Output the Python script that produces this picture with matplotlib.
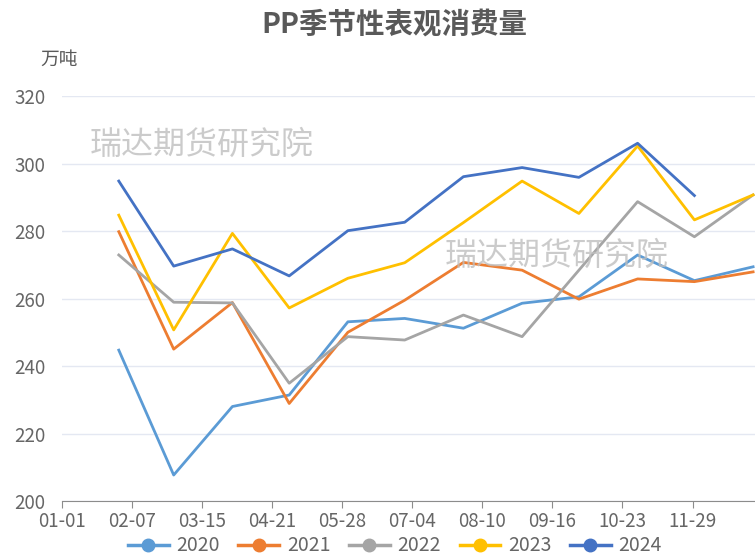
import pandas as pd
import numpy as np
from matplotlib import pyplot as plt
import matplotlib.dates as mdates

plt.rcParams['font.family'] = ['Noto Sans CJK SC', 'DejaVu Sans']

# month-end points, all years mapped onto one (leap) calendar year
months = pd.date_range('2020-01-31', periods=12, freq='ME')

v2020 = [244.7, 207.7, 228.0, 231.4, 253.1, 254.1, 251.2, 258.6, 260.5, 272.9, 265.3, 269.4]
v2021 = [279.8, 245.0, 258.8, 228.9, 250.0, 259.5, 270.7, 268.4, 259.8, 265.8, 265.0, 267.9]
v2022 = [272.9, 258.9, 258.7, 234.9, 248.7, 247.7, 255.1, 248.7, 268.4, 288.7, 278.3, 290.7]
v2023 = [284.7, 250.7, 279.3, 257.2, 266.0, 270.6, 282.5, 294.8, 285.2, 305.2, 283.3, 290.7]
v2024 = [294.8, 269.6, 274.7, 266.7, 280.1, 282.6, 296.1, 298.8, 295.9, 306.0, 290.5]

series = [('2020', v2020, '#5B9BD5'),
          ('2021', v2021, '#ED7D31'),
          ('2022', v2022, '#A5A5A5'),
          ('2023', v2023, '#FFC000'),
          ('2024', v2024, '#4472C4')]

tick_dates = pd.date_range('2020-01-01', periods=10, freq='37D')

fig = plt.figure(figsize=(7.55, 5.56), dpi=100)
ax = fig.add_axes([0.0821, 0.0989, 0.9179, 0.7284])

for name, vals, c in series:
    ax.plot(months[:len(vals)], vals, color=c, linewidth=2.0, label=name, clip_on=False)

ax.set_xlim(pd.Timestamp('2020-01-01'), pd.Timestamp('2021-01-01'))
ax.set_ylim(200, 320)
ax.set_yticks(np.arange(200, 321, 20))
ax.set_xticks(tick_dates)
ax.xaxis.set_major_formatter(mdates.DateFormatter('%m-%d'))

ax.grid(axis='y', color='#E4E8F2', linewidth=1.0)
ax.set_axisbelow(True)
for s in ['left', 'right', 'top']:
    ax.spines[s].set_visible(False)
ax.spines['bottom'].set_color('#8C8C8C')
ax.tick_params(axis='y', length=0, labelsize=13.5, labelcolor='#666666', pad=12)
ax.tick_params(axis='x', length=5, color='#8C8C8C', labelsize=13.5, labelcolor='#666666', pad=2)

fig.text(0.523, 0.955, 'PP季节性表观消费量', ha='center', va='center',
         fontsize=20.5, fontweight='bold', color='#595959')
fig.text(0.053, 0.893, '万吨', ha='left', va='center', fontsize=13.5, color='#595959')

# watermarks
fig.text(0.119, 0.739, '瑞达期货研究院', fontsize=23, color='#BFBFBF', alpha=0.8,
         ha='left', va='center')
fig.text(0.589, 0.540, '瑞达期货研究院', fontsize=23, color='#BFBFBF', alpha=0.8,
         ha='left', va='center')

handles = [plt.Line2D([], [], color=c, linewidth=2.5, marker='o', markersize=9)
           for _, _, c in series]
fig.legend(handles, [n for n, _, _ in series], loc='center', bbox_to_anchor=(0.523, 0.018),
           ncol=5, frameon=False, fontsize=14, labelcolor='#666666',
           handlelength=2.1, columnspacing=0.95, handletextpad=0.4)

plt.savefig('out.png', dpi=100)
